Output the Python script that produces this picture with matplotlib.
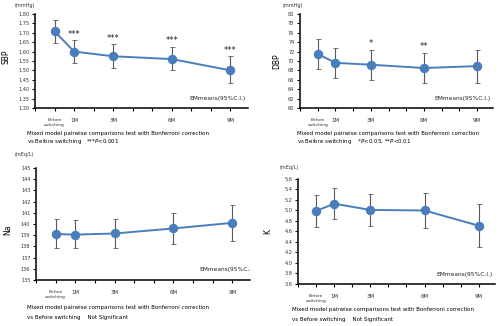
import matplotlib
matplotlib.use("Agg")
import matplotlib.pyplot as plt

months = [0, 1, 3, 6, 9]
tick_labels = ["Before\nswitching", "1M", "3M", "6M", "9M"]

sbp_mean = [170.8, 160.0, 157.5, 156.0, 150.0]
sbp_low = [164.5, 154.0, 151.5, 150.0, 143.0]
sbp_high = [177.0, 166.0, 164.0, 162.5, 157.5]
sbp_sig = ["", "***", "***", "***", "***"]

dbp_mean = [71.5, 69.6, 69.2, 68.5, 68.9]
dbp_low = [68.3, 66.4, 66.0, 65.2, 65.4]
dbp_high = [74.7, 72.8, 72.4, 71.8, 72.4]
dbp_sig = ["", "", "*", "**", ""]

na_mean = [139.1, 139.05, 139.15, 139.6, 140.1]
na_low = [137.9, 137.85, 137.9, 138.25, 138.5]
na_high = [140.4, 140.35, 140.45, 140.95, 141.65]

k_mean = [4.99, 5.13, 5.01, 5.00, 4.71]
k_low = [4.69, 4.83, 4.71, 4.67, 4.31]
k_high = [5.29, 5.42, 5.32, 5.34, 5.12]

note1 = "Mixed model pairwise comparisons test with Bonferroni correction"

blue = "#4a7ebb"
grey = "#5a5a5a"

fig = plt.figure(figsize=(5, 3.26), dpi=100)


def panel(rect, mean, low, high, ylim, step, fmt, ylabel, sig=None, sig_off=0, em_x=0.99, em_ha="right"):
    ax = fig.add_axes(rect)
    yerr = [[m - l for m, l in zip(mean, low)], [h - m for m, h in zip(mean, high)]]
    ax.errorbar(months, mean, yerr=yerr, fmt="none", ecolor=grey, elinewidth=0.8,
                capsize=1.8, capthick=0.6, zorder=2)
    ax.plot(months, mean, color=blue, lw=1.4, marker="o", ms=5.8, zorder=3)
    if sig:
        for x, h, s in zip(months, high, sig):
            if s:
                ax.text(x, h + sig_off, s, ha="center", va="bottom", fontsize=6, color="#222222")
    ax.set_xlim(-1, 9.9)
    ax.set_ylim(*ylim)
    n = int(round((ylim[1] - ylim[0]) / step))
    yt = [ylim[0] + i * step for i in range(n + 1)]
    ax.set_yticks(yt)
    ax.set_yticklabels([fmt(t) for t in yt], fontsize=3.6, color="#333333")
    ax.set_xticks(range(-1, 10))
    labels = [tick_labels[months.index(t)] if t in months else "" for t in range(-1, 10)]
    ax.set_xticklabels(labels, fontsize=4, color="#333333", linespacing=1.1)
    for lbl in ax.get_xticklabels():
        if lbl.get_text().startswith("Before"):
            lbl.set_fontsize(3.2)
    ax.tick_params(axis="y", length=2, width=0.8, pad=2, direction="out")
    ax.tick_params(axis="x", length=2.5, width=0.8, pad=5, direction="out")
    for s in ["top", "right"]:
        ax.spines[s].set_visible(False)
    for s in ["left", "bottom"]:
        ax.spines[s].set_linewidth(1.1)
    ax.set_ylabel(ylabel, fontsize=5.5)
    ax.text(em_x, 0.07, "EMmeans(95%C.I.)", transform=ax.transAxes, ha=em_ha,
            va="bottom", fontsize=4.2, color="#222222", clip_on=True)
    return ax


ax1 = panel([0.07, 0.669, 0.426, 0.288], sbp_mean, sbp_low, sbp_high, (130, 180), 5,
            lambda t: f"{t / 100:.2f}", "SBP", sbp_sig, 0.8)
ax1.yaxis.set_label_coords(-0.115, 0.55)

ax2 = panel([0.6, 0.669, 0.386, 0.288], dbp_mean, dbp_low, dbp_high, (60, 80), 2,
            lambda t: f"{t:.0f}", "DBP", dbp_sig, 0.3)
ax2.yaxis.set_label_coords(-0.095, 0.5)

ax3 = panel([0.072, 0.141, 0.428, 0.344], na_mean, na_low, na_high, (135, 145), 1,
            lambda t: f"{t:.0f}", "Na", em_x=0.765, em_ha="left")
ax3.yaxis.set_label_coords(-0.11, 0.45)

ax4 = panel([0.596, 0.129, 0.394, 0.322], k_mean, k_low, k_high, (3.6, 5.6), 0.2,
            lambda t: f"{t:.1f}", "K")
ax4.yaxis.set_label_coords(-0.13, 0.5)

# units
fig.text(15 / 500, 1 - 6 / 326, "(mmHg)", fontsize=3.6, va="center", color="#333333")
fig.text(283 / 500, 1 - 6 / 326, "(mmHg)", fontsize=3.6, va="center", color="#333333")
fig.text(15 / 500, 1 - 155 / 326, "(mEq/L)", fontsize=3.6, va="center", color="#333333")
fig.text(280 / 500, 1 - 168 / 326, "(mEq/L)", fontsize=3.6, va="center", color="#333333")

# footnotes
fs = 4.0
fig.text(27 / 500, 1 - 133 / 326, note1, fontsize=fs, va="center")
fig.text(27 / 500, 1 - 142 / 326, r"vs Before switching   ***$\it{P}$<0.001", fontsize=fs, va="center")
fig.text(297 / 500, 1 - 133 / 326, note1, fontsize=fs, va="center")
fig.text(297 / 500, 1 - 142 / 326, r"vs Before switching    *$\it{P}$<0.05, **$\it{P}$<0.01", fontsize=fs, va="center")
fig.text(27 / 500, 1 - 308 / 326, note1, fontsize=fs, va="center")
fig.text(27 / 500, 1 - 318 / 326, "vs Before switching    Not Significant", fontsize=fs, va="center")
fig.text(292 / 500, 1 - 310 / 326, note1, fontsize=fs, va="center")
fig.text(292 / 500, 1 - 320 / 326, "vs Before switching    Not Significant", fontsize=fs, va="center")

fig.savefig("out.png", dpi=100)
